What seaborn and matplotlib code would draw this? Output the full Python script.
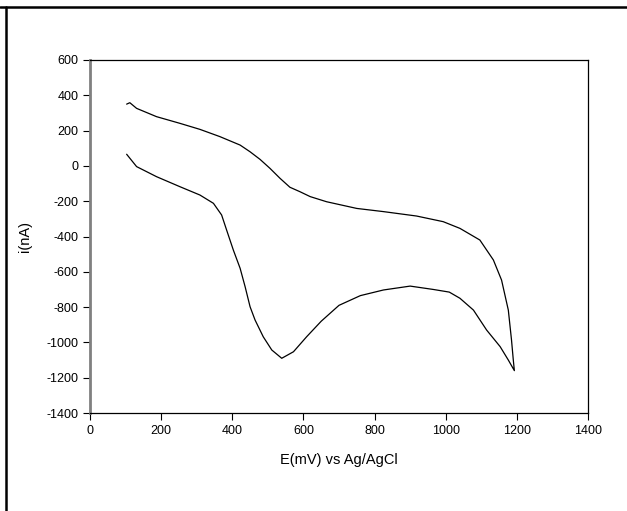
import matplotlib
matplotlib.use("Agg")
import matplotlib.pyplot as plt
import seaborn as sns
import pandas as pd
from matplotlib.lines import Line2D

# Forward sweep (lower branch) 100 -> ~1195 mV, then return sweep (upper branch) back to 100 mV
potential_mv = [103, 131, 187, 253, 309, 347, 370, 384, 403, 422, 436, 450, 464, 487, 511, 539,
                572, 609, 650, 700, 760, 825, 900, 965, 1010, 1040, 1078, 1115, 1153, 1176, 1193,
                1190, 1185, 1176, 1157, 1134, 1096, 1040, 993, 918, 825, 750, 665, 619, 590, 562,
                534, 506, 478, 450, 422, 365, 309, 253, 187, 131, 112, 103]
current_na = [66, -4, -61, -118, -165, -212, -278, -363, -477, -580, -684, -798, -873, -968, -1043, -1090,
              -1053, -968, -880, -790, -735, -703, -681, -700, -715, -750, -817, -930, -1024, -1100, -1160,
              -1100, -987, -817, -647, -533, -420, -354, -316, -284, -259, -241, -203, -174, -146, -121,
              -70, -14, 37, 80, 118, 166, 207, 241, 279, 326, 358, 350]

x_ticks = [0, 200, 400, 600, 800, 1000, 1200, 1400]
y_ticks = [600, 400, 200, 0, -200, -400, -600, -800, -1000, -1200, -1400]

sns.set_theme(style="white")
plt.rcParams['font.family'] = ['Liberation Sans', 'DejaVu Sans']
plt.rcParams['axes.unicode_minus'] = False

df = pd.DataFrame({"E": potential_mv, "i": current_na})

fig = plt.figure(figsize=(6.27, 5.11), dpi=100)
ax = fig.add_axes([90/627, 1-413/511, (588-90)/627, (413-60)/511])

sns.lineplot(data=df, x="E", y="i", sort=False, estimator=None, color="black", linewidth=0.9, ax=ax)

ax.set_xlim(0, 1400)
ax.set_ylim(-1400, 600)
ax.set_xticks(x_ticks)
ax.set_yticks(y_ticks)
ax.tick_params(axis="both", labelsize=9, colors="black", labelcolor="black", length=5, width=0.8,
               direction="out", left=True, bottom=True)
ax.set_xlabel("E(mV) vs Ag/AgCl", fontsize=10.5, labelpad=12, color="black")
ax.set_ylabel("i(nA)", fontsize=10.5, labelpad=10, color="black")
for s in ["top", "right", "bottom"]:
    ax.spines[s].set_color("black")
    ax.spines[s].set_linewidth(0.9)
ax.spines["left"].set_color("#808080")
ax.spines["left"].set_linewidth(2)

# frame lines of the screenshot (top and left)
fig.add_artist(Line2D([0, 1], [1-7/511, 1-7/511], transform=fig.transFigure, color="black", linewidth=1.8))
fig.add_artist(Line2D([6/627, 6/627], [0, 1-7/511], transform=fig.transFigure, color="black", linewidth=1.8))

fig.savefig("out.png", dpi=100)
